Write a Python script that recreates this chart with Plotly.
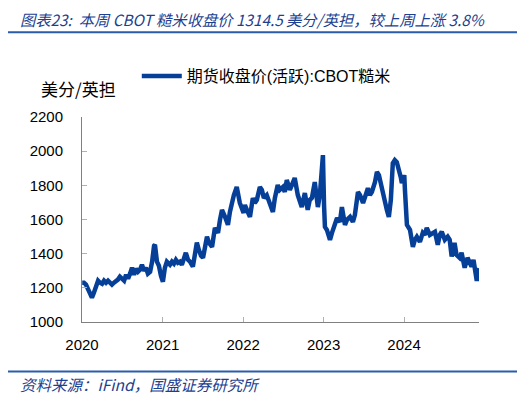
import plotly.graph_objects as go

dates = [
    "2020-01-02", "2020-01-10", "2020-01-19", "2020-01-28", "2020-02-06", "2020-02-15", "2020-02-24",
    "2020-03-05", "2020-03-14", "2020-03-23", "2020-04-01", "2020-04-10", "2020-04-19", "2020-04-28",
    "2020-05-07", "2020-05-16", "2020-05-25", "2020-06-03", "2020-06-12", "2020-06-21", "2020-06-30",
    "2020-07-10", "2020-07-19", "2020-07-28", "2020-08-06", "2020-08-15", "2020-08-24", "2020-09-02",
    "2020-09-11", "2020-09-20", "2020-09-29", "2020-10-08", "2020-10-17", "2020-10-26", "2020-11-05",
    "2020-11-14", "2020-11-23", "2020-11-27", "2020-12-06", "2020-12-15", "2020-12-24",
    "2021-01-02", "2021-01-11", "2021-01-20", "2021-02-03", "2021-02-12", "2021-02-21", "2021-03-02",
    "2021-03-11", "2021-03-20", "2021-03-29", "2021-04-07", "2021-04-16", "2021-04-26", "2021-05-05",
    "2021-05-18", "2021-05-27", "2021-06-05", "2021-06-14", "2021-06-24", "2021-07-03", "2021-07-12",
    "2021-07-21", "2021-07-30", "2021-08-13", "2021-08-26", "2021-09-09", "2021-09-18", "2021-09-27",
    "2021-10-11", "2021-10-24", "2021-11-02", "2021-11-11", "2021-11-20", "2021-12-03", "2021-12-17",
    "2022-01-03", "2022-01-09", "2022-01-18", "2022-02-01", "2022-02-14", "2022-02-23", "2022-03-04",
    "2022-03-18", "2022-03-27", "2022-04-05", "2022-04-18", "2022-05-02", "2022-05-16", "2022-05-25",
    "2022-06-07", "2022-06-16", "2022-06-30", "2022-07-09", "2022-07-18", "2022-08-01", "2022-08-10",
    "2022-08-23", "2022-09-06", "2022-09-15", "2022-09-24", "2022-10-08", "2022-10-21", "2022-10-30",
    "2022-11-09", "2022-11-22", "2022-12-06", "2022-12-15", "2022-12-24", "2022-12-29",
    "2023-01-03", "2023-01-07", "2023-01-16", "2023-01-30", "2023-02-08", "2023-02-17", "2023-03-03",
    "2023-03-16", "2023-03-25", "2023-04-08", "2023-04-17", "2023-05-01", "2023-05-14", "2023-05-23",
    "2023-06-06", "2023-06-15", "2023-06-29", "2023-07-08", "2023-07-21", "2023-07-30", "2023-08-08",
    "2023-08-22", "2023-08-31", "2023-09-09", "2023-09-18", "2023-09-27", "2023-10-06", "2023-10-15",
    "2023-10-24", "2023-11-02", "2023-11-11", "2023-11-20", "2023-11-29", "2023-12-08", "2023-12-17",
    "2023-12-22",
    "2024-01-02", "2024-01-05", "2024-01-14", "2024-01-28", "2024-02-10", "2024-02-19", "2024-02-28",
    "2024-03-13", "2024-03-26", "2024-04-04", "2024-04-13", "2024-04-27", "2024-05-06", "2024-05-20",
    "2024-06-02", "2024-06-11", "2024-06-20", "2024-07-04", "2024-07-17", "2024-07-26", "2024-08-04",
    "2024-08-17", "2024-08-26", "2024-09-09", "2024-09-18", "2024-10-02", "2024-10-15", "2024-10-24",
    "2024-11-02", "2024-11-11", "2024-11-21", "2024-11-26", "2024-12-02", "2024-12-06",
]

prices = [
    1230, 1230, 1219, 1190, 1166, 1143, 1172,
    1219, 1242, 1230, 1224, 1242, 1230, 1242,
    1230, 1219, 1230, 1236, 1248, 1265, 1254,
    1242, 1277, 1254, 1283, 1318, 1277, 1312,
    1294, 1306, 1335, 1300, 1318, 1283, 1294,
    1353, 1446, 1452, 1353, 1329, 1271,
    1236, 1318, 1353, 1335, 1353, 1341, 1364,
    1347, 1353, 1335, 1364, 1405, 1364, 1353,
    1324, 1394, 1464, 1423, 1388, 1376, 1434,
    1499, 1464, 1440, 1551, 1522, 1598, 1656,
    1615, 1569, 1644, 1703, 1743, 1790, 1697,
    1638, 1685, 1656, 1615, 1726, 1697, 1714,
    1790, 1773, 1726, 1743, 1685, 1644, 1726,
    1802, 1773, 1790, 1761, 1831, 1773, 1802,
    1843, 1743, 1697, 1673, 1755, 1656, 1714,
    1726, 1819, 1673, 1743, 1948, 1977,
    1685, 1557, 1539, 1481, 1522, 1557, 1609,
    1586, 1673, 1569, 1598, 1615, 1586, 1627,
    1761, 1743, 1697, 1732, 1784, 1743, 1761,
    1819, 1878, 1860, 1802, 1761, 1714, 1656,
    1615, 1714, 1930, 1948, 1936, 1901, 1848,
    1813,
    1860, 1773, 1569, 1539, 1440, 1481, 1499,
    1469, 1522, 1510, 1551, 1510, 1516, 1528,
    1452, 1510, 1528, 1481, 1499, 1481, 1383,
    1463, 1393, 1376, 1405, 1318, 1376, 1341,
    1324, 1364, 1289, 1240, 1300, 1314.5,
]

year_ticks = ["2020-01-01", "2021-01-01", "2022-01-01", "2023-01-01", "2024-01-01"]
year_labels = ["2020", "2021", "2022", "2023", "2024"]

series_name = "期货收盘价(活跃):CBOT糙米"
title_text = "图表23:  本周 CBOT 糙米收盘价 1314.5 美分/英担，较上周上涨 3.8%"
source_text = "资料来源：iFind，国盛证券研究所"
unit_text = "美分/英担"

BLUE = "#063f97"
TXT_BLUE = "#1d3f8f"
FONT = "Liberation Sans, Arial, Noto Sans CJK SC"
CJK = "Noto Sans CJK SC, Liberation Sans"

fig = go.Figure()
fig.add_trace(go.Scatter(
    x=dates, y=prices, mode="lines", name=series_name,
    line=dict(color=BLUE, width=4.5), showlegend=True,
))

# the page adds an 8px body margin, so the figure is 8px smaller and shifted
fig.update_layout(
    width=517, height=390,
    margin=dict(l=74, r=46, t=109, b=75.5, autoexpand=False),
    paper_bgcolor="white", plot_bgcolor="white",
    font=dict(family=FONT, size=15, color="black"),
    showlegend=True,
    legend=dict(
        x=0.138, y=1.2, xanchor="left", yanchor="middle",
        orientation="h", bgcolor="rgba(0,0,0,0)",
        font=dict(family=FONT, size=16, color="black"),
        itemwidth=40,
    ),
    xaxis=dict(
        type="date", range=["2020-01-01", "2024-12-06"],
        tickvals=year_ticks, ticktext=year_labels,
        showline=True, linecolor="#808080", linewidth=1,
        ticks="inside", ticklen=5, tickcolor="#b0b0b0",
        showgrid=False, zeroline=False, ticklabelstandoff=9,
        tickfont=dict(family=FONT, size=15, color="black"),
    ),
    yaxis=dict(
        range=[1000, 2200], dtick=200, tick0=1000,
        showline=True, linecolor="#808080", linewidth=1,
        ticks="inside", ticklen=5, tickcolor="#b0b0b0",
        showgrid=False, zeroline=False, ticklabelstandoff=15,
        tickfont=dict(family=FONT, size=15, color="black"),
    ),
    shapes=[
        dict(type="line", xref="paper", yref="paper",
             x0=-0.194, x1=1.10, y0=1.4136, y1=1.4136,
             line=dict(color="#2a5caa", width=2)),
        dict(type="line", xref="paper", yref="paper",
             x0=-0.194, x1=1.10, y0=-0.2409, y1=-0.2409,
             line=dict(color="#2a5caa", width=2)),
    ],
    annotations=[
        dict(text=title_text, xref="paper", yref="paper",
             x=-0.162, y=1.478, xanchor="left", yanchor="middle",
             showarrow=False,
             font=dict(family=CJK, size=15.3, color=TXT_BLUE, style="italic")),
        dict(text=source_text, xref="paper", yref="paper",
             x=-0.162, y=-0.30, xanchor="left", yanchor="middle",
             showarrow=False,
             font=dict(family=CJK, size=15.5, color=TXT_BLUE, style="italic")),
        dict(text=unit_text, xref="paper", yref="paper",
             x=-0.01, y=1.14, xanchor="center", yanchor="middle",
             showarrow=False,
             font=dict(family="Noto Sans CJK SC", size=17, color="black")),
    ],
)

fig.write_html("out.html")
